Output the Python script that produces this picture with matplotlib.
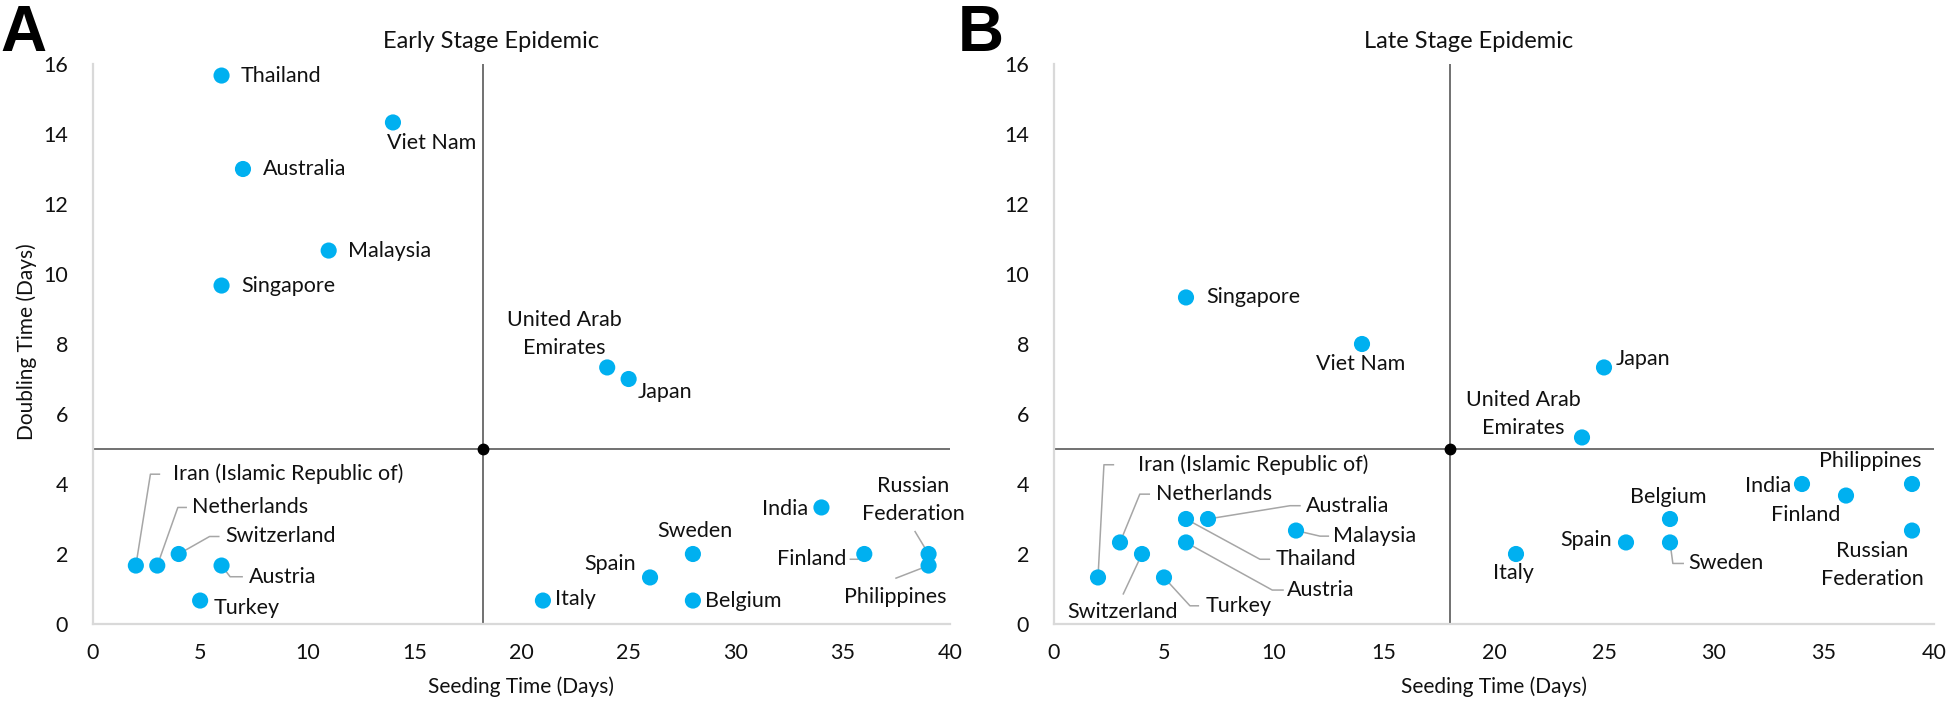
"""Seeding time vs doubling time, early and late stage"""

import matplotlib
matplotlib.use("Agg")
import matplotlib.pyplot as plt

plt.rcParams['font.family'] = ['Lato', 'DejaVu Sans']

# Data
countries = ["Thailand", "Viet Nam", "Australia", "Malaysia", "Singapore",
             "United Arab\nEmirates", "Japan", "Iran (Islamic Republic of)",
             "Netherlands", "Switzerland", "Austria", "Turkey", "India",
             "Sweden", "Spain", "Italy", "Belgium", "Finland",
             "Russian\nFederation", "Philippines"]
seeding_days = [6, 14, 7, 11, 6, 24, 25, 2, 3, 4, 6, 5, 34, 28, 26, 21, 28, 36, 39, 39]
early_doubling = [15.67, 14.33, 13, 10.67, 9.67, 7.33, 7, 1.67, 1.67, 2, 1.67, 0.67,
                  3.33, 2, 1.33, 0.67, 0.67, 2, 2, 1.67]
late_doubling = [3, 8, 3, 2.67, 9.33, 5.33, 7.33, 1.33, 2.33, 2, 2.33, 1.33,
                 4, 2.33, 2.33, 2, 3, 3.67, 2.67, 4]

# quadrant split (seeding, doubling)
early_split = (18.2, 5)
late_split = (18, 5)

x_ticks = [0, 5, 10, 15, 20, 25, 30, 35, 40]
y_ticks = [0, 2, 4, 6, 8, 10, 12, 14, 16]

# label placement relative to each point: (dx, dy, ha, leader elbow, leader end)
early_layout = {
    "Thailand": (0.9, 0, "left", None, None),
    "Viet Nam": (-0.3, -0.58, "left", None, None),
    "Australia": (0.92, 0, "left", None, None),
    "Malaysia": (0.9, 0, "left", None, None),
    "Singapore": (0.9, 0, "left", None, None),
    "United Arab\nEmirates": (-2.0, 0.97, "center", None, None),
    "Japan": (0.4, -0.36, "left", None, None),
    "Iran (Islamic Republic of)": (1.73, 2.61, "left", (0.68, 2.61), (1.1, 2.61)),
    "Netherlands": (1.63, 1.66, "left", (0.96, 1.66), (1.35, 1.66)),
    "Switzerland": (2.17, 0.5, "left", (1.44, 0.5), (1.87, 0.5)),
    "Austria": (1.27, -0.32, "left", (0.4, -0.32), (0.96, -0.32)),
    "Turkey": (0.63, -0.22, "left", None, None),
    "India": (-0.6, -0.04, "right", None, None),
    "Sweden": (0.08, 0.67, "center", None, None),
    "Spain": (-0.64, 0.38, "right", None, None),
    "Italy": (0.57, 0.04, "left", None, None),
    "Belgium": (0.56, 0, "left", None, None),
    "Finland": (-0.83, -0.15, "right", (-0.3, -0.15), (-0.65, -0.15)),
    "Russian\nFederation": (-0.7, 1.54, "center", (-0.63, 0.64), None),
    "Philippines": (-1.55, -0.89, "center", (-1.52, -0.36), None),
}

late_layout = {
    "Singapore": (0.9, 0, "left", None, None),
    "Viet Nam": (-0.06, -0.58, "center", None, None),
    "Japan": (0.55, 0.24, "left", None, None),
    "United Arab\nEmirates": (-2.67, 0.66, "center", None, None),
    "Iran (Islamic Republic of)": (1.8, 3.22, "left", (0.27, 3.22), (0.7, 3.22)),
    "Netherlands": (1.62, 1.38, "left", (0.9, 1.38), (1.33, 1.38)),
    "Switzerland": (-0.87, -1.67, "center", (-0.85, -1.14), None),
    "Turkey": (1.9, -0.81, "left", (1.18, -0.81), (1.56, -0.81)),
    "Australia": (4.44, 0.38, "left", (3.73, 0.38), (4.18, 0.38)),
    "Malaysia": (1.7, -0.16, "left", (1.09, -0.16), (1.47, -0.16)),
    "Thailand": (4.09, -1.15, "left", (3.36, -1.15), (3.79, -1.15)),
    "Austria": (4.6, -1.36, "left", (3.92, -1.36), (4.41, -1.36)),
    "Belgium": (-0.07, 0.62, "center", None, None),
    "Spain": (-0.62, 0.07, "right", None, None),
    "Sweden": (0.85, -0.6, "left", (0.13, -0.6), (0.6, -0.6)),
    "Italy": (-0.13, -0.53, "center", None, None),
    "India": (-0.5, -0.06, "right", None, None),
    "Finland": (-1.82, -0.56, "center", None, None),
    "Philippines": (-1.9, 0.66, "center", None, None),
    "Russian\nFederation": (-1.81, -0.98, "center", None, None),
}

DOT = "#00B0F0"
LEADER = "#A6A6A6"
AXIS = "#D9D9D9"
QUAD = "#595959"
TXT = "#111111"
FS = 15.5


def draw_panel(ax, doubling, layout, split, title_x, title):
    ax.set_xlim(0, 40)
    ax.set_ylim(0, 16)
    ax.set_xticks(x_ticks)
    ax.set_yticks(y_ticks)
    ax.tick_params(length=0, labelsize=FS, labelcolor=TXT)
    ax.tick_params(axis="y", pad=18)
    ax.tick_params(axis="x", pad=14)
    for s in ["top", "right"]:
        ax.spines[s].set_visible(False)
    for s in ["left", "bottom"]:
        ax.spines[s].set_color(AXIS)
        ax.spines[s].set_linewidth(1.6)

    ax.axvline(split[0], color=QUAD, lw=1.2, zorder=1)
    ax.axhline(split[1], color=QUAD, lw=1.2, zorder=1)
    ax.plot(split[0], split[1], "o", color="black", ms=7.5, zorder=3, clip_on=False)

    ax.scatter(seeding_days, doubling, s=135, color=DOT, edgecolors="none", zorder=4)

    for name, x, y in zip(countries, seeding_days, doubling):
        dx, dy, ha, elbow, end = layout[name]
        if elbow is not None:
            xs = [x, x + elbow[0]]
            ys = [y, y + elbow[1]]
            if end is not None:
                xs.append(x + end[0])
                ys.append(y + end[1])
            ax.plot(xs, ys, color=LEADER, lw=1.1, zorder=2)
        ax.text(x + dx, y + dy, name, ha=ha, va="center", fontsize=FS,
                color=TXT, linespacing=1.5, zorder=5)

    ax.text(0.5, -0.1125, "Seeding Time (Days)", transform=ax.transAxes,
            ha="center", va="center", fontsize=FS - 0.5, color=TXT)
    fig.text(title_x, 1 - 42 / 702, title, ha="center", va="center",
             fontsize=FS + 1.5, color=TXT)


fig = plt.figure(figsize=(19.46, 7.02), dpi=100)
ax_a = fig.add_axes([93 / 1946, 1 - 624 / 702, 857 / 1946, 560 / 702])
ax_b = fig.add_axes([1054 / 1946, 1 - 624 / 702, 880 / 1946, 560 / 702])

draw_panel(ax_a, early_doubling, early_layout, early_split, 491 / 1946, "Early Stage Epidemic")
draw_panel(ax_b, late_doubling, late_layout, late_split, 1469 / 1946, "Late Stage Epidemic")

ax_a.text(-0.077, 0.5036, "Doubling Time (Days)", transform=ax_a.transAxes,
          rotation=90, ha="center", va="center", fontsize=FS - 0.5, color=TXT)

# panel letters, baseline set so the glyph bottoms sit near the "16" row
fig.text(0.0, 1 - 51 / 702, "A", ha="left", va="baseline", fontsize=46,
         fontweight="bold", family="Liberation Sans")
fig.text(958 / 1946, 1 - 51 / 702, "B", ha="left", va="baseline", fontsize=46,
         fontweight="bold", family="Liberation Sans")

fig.savefig("out.png", dpi=100)
